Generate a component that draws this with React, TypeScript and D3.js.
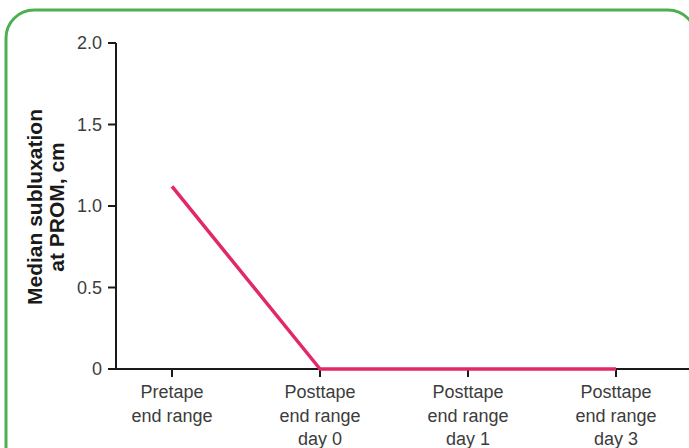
import React from "react";
import * as d3 from "d3";

const categories: string[][] = [
  ["Pretape", "end range"],
  ["Posttape", "end range", "day 0"],
  ["Posttape", "end range", "day 1"],
  ["Posttape", "end range", "day 3"],
];
const categoryKeys = ["pre", "d0", "d1", "d3"];
const values = [1.12, 0, 0, 0];
const yTicks = [0, 0.5, 1.0, 1.5, 2.0];
const yTickLabels = ["0", "0.5", "1.0", "1.5", "2.0"];
const yLabelLines = ["Median subluxation", "at PROM, cm"];

export default function App() {
  const W = 689;
  const H = 448;
  const axisX = 116;
  const axisY0 = 369;
  const y = d3.scaleLinear().domain([0, 2]).range([axisY0, 43]);
  const x = d3.scalePoint<string>().domain(categoryKeys).range([172, 616]);
  const line = d3
    .line<number>()
    .x((_, i) => x(categoryKeys[i]) as number)
    .y((d) => y(d));
  const font = "'Liberation Sans', Arial, Helvetica, sans-serif";
  return (
    <svg
      width={W}
      height={H}
      style={{ position: "fixed", left: 0, top: 0, background: "#fff" }}
    >
      <rect
        x={6}
        y={10}
        width={690}
        height={470}
        rx={28}
        ry={28}
        fill="#fff"
        stroke="#4cb050"
        strokeWidth={3}
      />
      {/* y axis */}
      <line x1={axisX} x2={axisX} y1={y(2)} y2={axisY0} stroke="#1a1a1a" strokeWidth={2} />
      {yTicks.map((t, i) => (
        <g key={t}>
          <line x1={axisX - 8} x2={axisX} y1={y(t)} y2={y(t)} stroke="#1a1a1a" strokeWidth={2} />
          <text
            x={axisX - 14}
            y={y(t)}
            dy="0.36em"
            textAnchor="end"
            fontFamily={font}
            fontSize={18}
            fill="#3c3c3c"
          >
            {yTickLabels[i]}
          </text>
        </g>
      ))}
      {/* x axis */}
      <line x1={axisX} x2={W} y1={axisY0} y2={axisY0} stroke="#1a1a1a" strokeWidth={2} />
      {categoryKeys.map((k, i) => (
        <g key={k}>
          <line
            x1={x(k)}
            x2={x(k)}
            y1={axisY0}
            y2={axisY0 + 8}
            stroke="#1a1a1a"
            strokeWidth={2}
          />
          {categories[i].map((s, j) => (
            <text
              key={j}
              x={x(k)}
              y={398 + j * 23.5}
              textAnchor="middle"
              fontFamily={font}
              fontSize={18}
              fill="#3c3c3c"
            >
              {s}
            </text>
          ))}
        </g>
      ))}
      {/* y label */}
      <g transform={`translate(0, 207) rotate(-90)`}>
        {yLabelLines.map((s, i) => (
          <text
            key={i}
            x={0}
            y={34 + i * 22}
            dy="0.36em"
            textAnchor="middle"
            fontFamily={font}
            fontSize={21}
            fontWeight="bold"
            fill="#1a1a1a"
          >
            {s}
          </text>
        ))}
      </g>
      {/* series */}
      <path
        d={line(values) as string}
        fill="none"
        stroke="#e2286a"
        strokeWidth={3.5}
        strokeLinejoin="round"
      />
    </svg>
  );
}
